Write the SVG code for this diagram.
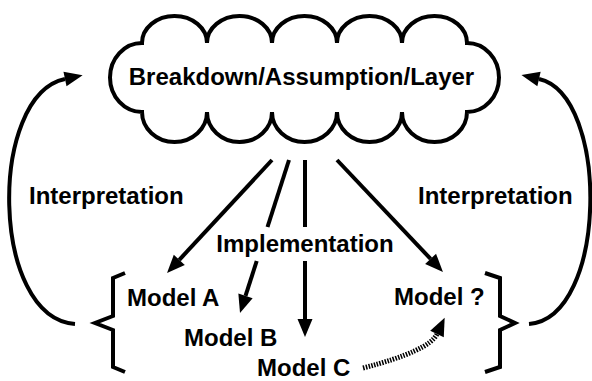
<svg xmlns="http://www.w3.org/2000/svg" width="592" height="381" viewBox="0 0 592 381">
  <style>
    .ln { stroke: #000; stroke-width: 4; fill: none; }
    .brace { stroke: #000; stroke-width: 4; fill: none; stroke-linejoin: miter; stroke-miterlimit: 10; }
    .dot { stroke: #000; stroke-width: 5; fill: none; stroke-dasharray: 1.5 1.3; }
    .lbl { font-family: "Liberation Sans", Arial, Helvetica, sans-serif; font-weight: bold; font-size: 24px; fill: #000; }
  </style>
  <defs>
    <marker id="head" markerUnits="userSpaceOnUse" viewBox="0 -8 18 16" refX="0" refY="0" markerWidth="18" markerHeight="16" orient="auto" overflow="visible">
      <path d="M0,-7.5 L18,0 L0,7.5 Z" fill="#000"/>
    </marker>
  </defs>
  <rect width="592" height="381" fill="#fff"/>

  <!-- cloud node -->
  <g id="cloud">
    <path class="ln" d="M142,43 A32.5,27 0 0 1 207,43 A32.5,27 0 0 1 272,43 A32.5,27 0 0 1 337,43 A32.5,27 0 0 1 402,43 A32.5,27 0 0 1 467,43 A32,34.5 0 0 1 467,112 A32.5,30 0 0 1 402,112 A32.5,30 0 0 1 337,112 A32.5,30 0 0 1 272,112 A32.5,30 0 0 1 207,112 A32.5,30 0 0 1 142,112 A32,34.5 0 0 1 142,43 Z"/>
    <text class="lbl" x="301.5" y="85" text-anchor="middle">Breakdown/Assumption/Layer</text>
  </g>

  <!-- model nodes -->
  <g id="model-a"><text class="lbl" x="127" y="306">Model A</text></g>
  <g id="model-b"><text class="lbl" x="184" y="346">Model B</text></g>
  <g id="model-c"><text class="lbl" x="257" y="376">Model C</text></g>
  <g id="model-q"><text class="lbl" x="394" y="305">Model ?</text></g>

  <!-- braces around the models -->
  <g id="brace-left">
    <path class="brace" d="M125,273 L113,278 L113,316 L95,323 L113,330 L113,367 L125,372"/>
  </g>
  <g id="brace-right">
    <path class="brace" d="M485,273 L500,278 L500,316 L515,323 L500,330 L500,367 L485,372"/>
  </g>

  <!-- connectors -->
  <g id="connectors">
    <!-- implementation arrows -->
    <line class="ln" x1="272" y1="160" x2="179.3" y2="259.8" marker-end="url(#head)"/>
    <line class="ln" x1="289" y1="160" x2="267.5" y2="227"/>
    <line class="ln" x1="256.7" y1="261" x2="245.5" y2="295.9" marker-end="url(#head)"/>
    <line class="ln" x1="305" y1="160" x2="305" y2="227"/>
    <line class="ln" x1="305" y1="261" x2="305" y2="319" marker-end="url(#head)"/>
    <line class="ln" x1="337" y1="160" x2="430.6" y2="258.9" marker-end="url(#head)"/>
    <!-- interpretation loops -->
    <path class="ln" d="M75,324 C-10,318 -12,95 65,79" marker-end="url(#head)"/>
    <path class="ln" d="M529,324 C608,318 610,95 539,79" marker-end="url(#head)"/>
    <!-- dotted link from Model C -->
    <path class="dot" d="M363,368 Q429,351 437,334" marker-end="url(#head)"/>
  </g>

  <!-- connector labels -->
  <g id="labels">
    <text class="lbl" x="29" y="204">Interpretation</text>
    <text class="lbl" x="418" y="204">Interpretation</text>
    <text class="lbl" x="305" y="252" text-anchor="middle">Implementation</text>
  </g>
</svg>
